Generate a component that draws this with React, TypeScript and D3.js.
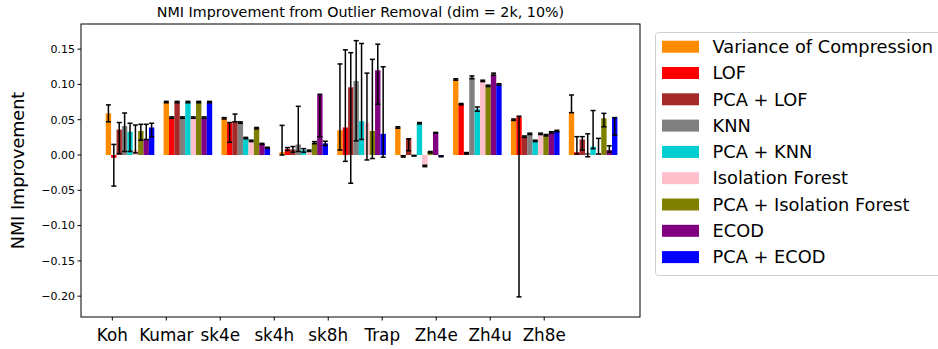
import React from 'react';
import * as d3 from 'd3';

// datasets on the x axis
const categories = ['Koh', 'Kumar', 'sk4e', 'sk4h', 'sk8h', 'Trap', 'Zh4e', 'Zh4u', 'Zh8e'];

const methods = [
  'Variance of Compression', 'LOF', 'PCA + LOF', 'KNN', 'PCA + KNN',
  'Isolation Forest', 'PCA + Isolation Forest', 'ECOD', 'PCA + ECOD',
];
const colors = ['#ff8c00', '#ff0000', '#a52a2a', '#808080', '#00ced1', '#ffc0cb', '#808000', '#800080', '#0000ff'];

// bar heights, one value per dataset
const vocValues = [0.059, 0.075, 0.052, 0.004, 0.035, 0.039, 0.107, 0.050, 0.061];
const lofValues = [-0.004, 0.053, 0.045, 0.0085, 0.039, -0.002, 0.072, 0.054, 0.004];
const pcaLofValues = [0.036, 0.075, 0.048, 0.008, 0.096, 0.023, 0.0025, 0.026, 0.022];
const knnValues = [0.041, 0.053, 0.046, 0.015, 0.105, -0.001, 0.110, 0.030, 0.003];
const pcaKnnValues = [0.033, 0.075, 0.024, 0.007, 0.048, 0.045, 0.065, 0.020, 0.012];
const iforValues = [0.007, 0.053, 0.020, 0.006, 0.046, -0.0155, 0.105, 0.030, 0.002];
const pcaIforValues = [0.034, 0.075, 0.038, 0.0175, 0.034, 0.004, 0.098, 0.028, 0.052];
const ecodValues = [0.022, 0.053, 0.0156, 0.085, 0.120, 0.0316, 0.114, 0.032, 0.007];
const pcaEcodValues = [0.039, 0.075, 0.010, 0.0165, 0.030, -0.002, 0.100, 0.034, 0.053];

// error bar ends (low, high)
const vocLow = [0.047, 0.074, 0.051, 0.000, 0.007, 0.038, 0.106, 0.049, 0.060];
const vocHigh = [0.071, 0.076, 0.053, 0.042, 0.129, 0.040, 0.108, 0.051, 0.085];
const lofLow = [-0.044, 0.052, 0.018, 0.0065, -0.009, -0.003, 0.071, -0.201, 0.0014];
const lofHigh = [0.015, 0.054, 0.046, 0.0105, 0.149, -0.001, 0.073, 0.055, 0.026];
const pcaLofLow = [0.002, 0.074, 0.047, 0.004, -0.040, 0.006, 0.0015, 0.025, 0.007];
const pcaLofHigh = [0.046, 0.076, 0.058, 0.012, 0.145, 0.023, 0.0035, 0.027, 0.026];
const knnLow = [0.005, 0.052, 0.045, 0.005, 0.020, -0.0015, 0.108, 0.029, -0.0025];
const knnHigh = [0.0595, 0.054, 0.047, 0.069, 0.162, -0.0005, 0.112, 0.031, 0.030];
const pcaKnnLow = [0.005, 0.074, 0.023, 0.004, 0.022, 0.044, 0.062, 0.019, 0.009];
const pcaKnnHigh = [0.045, 0.076, 0.025, 0.009, 0.158, 0.046, 0.068, 0.021, 0.063];
const iforLow = [0.003, 0.052, 0.019, 0.005, -0.007, -0.0165, 0.104, 0.029, 0.0014];
const iforHigh = [0.0425, 0.054, 0.021, 0.007, 0.116, -0.0145, 0.106, 0.031, 0.0236];
const pcaIforLow = [0.021, 0.074, 0.037, 0.016, -0.005, 0.003, 0.097, 0.027, 0.040];
const pcaIforHigh = [0.0435, 0.076, 0.039, 0.019, 0.1355, 0.005, 0.099, 0.029, 0.059];
const ecodLow = [0.022, 0.052, 0.015, 0.026, 0.072, 0.031, 0.113, 0.031, 0.004];
const ecodHigh = [0.0435, 0.054, 0.0165, 0.086, 0.157, 0.032, 0.116, 0.033, 0.013];
const pcaEcodLow = [0.026, 0.074, 0.0095, 0.0135, -0.003, -0.0025, 0.099, 0.033, 0.028];
const pcaEcodHigh = [0.045, 0.076, 0.011, 0.0195, 0.125, -0.0015, 0.101, 0.035, 0.053];

const yTicks = [-0.2, -0.15, -0.1, -0.05, 0, 0.05, 0.1, 0.15];

const series = [
  { v: vocValues, lo: vocLow, hi: vocHigh },
  { v: lofValues, lo: lofLow, hi: lofHigh },
  { v: pcaLofValues, lo: pcaLofLow, hi: pcaLofHigh },
  { v: knnValues, lo: knnLow, hi: knnHigh },
  { v: pcaKnnValues, lo: pcaKnnLow, hi: pcaKnnHigh },
  { v: iforValues, lo: iforLow, hi: iforHigh },
  { v: pcaIforValues, lo: pcaIforLow, hi: pcaIforHigh },
  { v: ecodValues, lo: ecodLow, hi: ecodHigh },
  { v: pcaEcodValues, lo: pcaEcodLow, hi: pcaEcodHigh },
];

const W = 938;
const H = 349;
const plot = { left: 81, right: 640, top: 24, bottom: 317 };
const FONT = 'DejaVu Sans, sans-serif';

const App = () => {
  const barW = 0.0933;
  const x = d3.scaleLinear().domain([-0.427, 9.23]).range([plot.left, plot.right]);
  const y = d3.scaleLinear().domain([-0.2295, 0.1856]).range([plot.bottom, plot.top]);
  const tickX = d3.scalePoint<string>()
    .domain(categories)
    .range([x(0.114), x(0.114 + 8 * 0.9326)]);
  const fmt = (d: number) => d3.format('.2f')(d).replace('-', '\u2212');
  const bw = x(barW) - x(0);

  return (
    <svg width={W} height={H} style={{ position: 'absolute', left: 0, top: 0, background: '#fff' }}
      fontFamily={FONT}>
      {/* bars */}
      {series.map((s, j) => (
        <g key={methods[j]}>
          {s.v.map((v, i) => {
            const x0 = x(i + j * barW);
            return (
              <rect key={i} x={x0} width={bw} y={Math.min(y(v), y(0))}
                height={Math.abs(y(v) - y(0))} fill={colors[j]} />
            );
          })}
        </g>
      ))}
      {/* error bars */}
      {series.map((s, j) => (
        <g key={'e' + j} stroke="#000" strokeWidth={1.5}>
          {s.v.map((v, i) => {
            const cx = x(i + j * barW) + bw / 2;
            return (
              <g key={i}>
                <line x1={cx} x2={cx} y1={y(s.lo[i])} y2={y(s.hi[i])} />
                <line x1={cx - 2.5} x2={cx + 2.5} y1={y(s.lo[i])} y2={y(s.lo[i])} />
                <line x1={cx - 2.5} x2={cx + 2.5} y1={y(s.hi[i])} y2={y(s.hi[i])} />
              </g>
            );
          })}
        </g>
      ))}
      {/* frame */}
      <rect x={plot.left} y={plot.top} width={plot.right - plot.left} height={plot.bottom - plot.top}
        fill="none" stroke="#000" strokeWidth={1} />
      {/* y axis */}
      {yTicks.map(t => (
        <g key={t} transform={`translate(0,${y(t)})`}>
          <line x1={plot.left - 3.5} x2={plot.left} stroke="#000" />
          <text x={plot.left - 6} dy="0.35em" textAnchor="end" fontSize={11}>{fmt(t)}</text>
        </g>
      ))}
      {/* x axis */}
      {categories.map(c => (
        <g key={c} transform={`translate(${tickX(c)},${plot.bottom})`}>
          <line y1={0} y2={3.5} stroke="#000" />
          <text y={23.5} textAnchor="middle" fontSize={16.8}>{c}</text>
        </g>
      ))}
      <text transform={`translate(24,${(plot.top + plot.bottom) / 2}) rotate(-90)`} textAnchor="middle"
        fontSize={17.6}>NMI Improvement</text>
      <text x={(plot.left + plot.right) / 2} y={17} textAnchor="middle" fontSize={14.3}>
        NMI Improvement from Outlier Removal (dim = 2k, 10%)
      </text>
      {/* legend */}
      <rect x={655.5} y={32.5} width={300} height={243} rx={3} fill="#fff" stroke="#d0d0d0" />
      {methods.map((m, j) => (
        <g key={m} transform={`translate(0,${46.7 + j * 26.3})`}>
          <rect x={662} y={-6} width={37} height={12} fill={colors[j]} />
          <text x={712.5} dy="0.35em" fontSize={17.8}>{m}</text>
        </g>
      ))}
    </svg>
  );
};

export default App;
